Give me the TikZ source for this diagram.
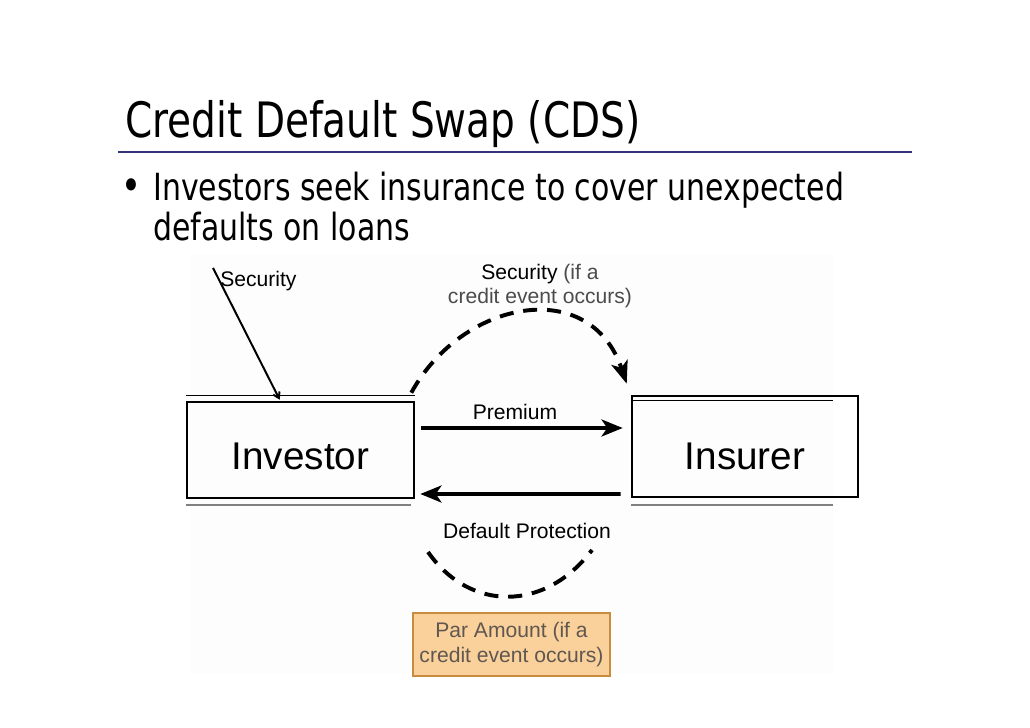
\documentclass[tikz,border=0pt]{standalone}
\usepackage{fontspec}
\setmainfont{Liberation Sans}
\newfontfamily\slidefont{DejaVu Sans}[FakeStretch=0.8]
\usetikzlibrary{arrows.meta,calc}
\definecolor{rulenavy}{RGB}{51,51,122}
\definecolor{parfill}{RGB}{250,208,155}
\definecolor{parline}{RGB}{199,140,62}
\definecolor{partext}{RGB}{96,88,80}
\definecolor{panelgray}{RGB}{253,253,253}

\begin{document}
\begin{tikzpicture}[x=0.025cm, y=-0.025cm, >=Stealth,
  party/.style={rectangle, draw, line width=1.8pt, inner sep=0pt, text height=28pt, text depth=0pt, font=\fontsize{27.5}{30}\selectfont},
  lbl/.style={inner sep=0pt, align=center, font=\fontsize{15}{17.7}\selectfont},
  flow/.style={line width=2.8pt, -{Stealth[length=15pt,width=12pt,inset=4pt]}},
  dashflow/.style={line width=2.8pt, dash pattern=on 10pt off 7pt}]
\useasboundingbox (0,0) rectangle (1030,728);
\fill[panelgray] (191,255) rectangle (833,673);
% slide title and bullet
\node[anchor=base west, inner sep=0pt, font=\slidefont\fontsize{34.7}{40}\selectfont] (title) at (125,138) {Credit Default Swap (CDS)};
\draw[rulenavy, line width=1.8pt] (118,152) -- (912,152);
\node[anchor=base west, inner sep=0pt, font=\slidefont\fontsize{30}{30}\selectfont] (dot) at (121,201) {\textbullet};
\node[anchor=north west, inner sep=0pt, align=left, font=\slidefont\fontsize{26.6}{28.3}\selectfont] (bullettxt) at (153,172) {Investors seek insurance to cover unexpected\\defaults on loans};
% the two parties
\node[party, minimum width=5.675cm, minimum height=2.4cm] (inv) at (300.5,450) {Investor};
\node[party, text height=33pt, minimum width=5.65cm, minimum height=2.525cm] (ins) at (745,446.5) {Insurer};
\draw[line width=0.8pt] ($(inv.north west)+(0,-5)$) -- ($(inv.north east)+(0,-5)$);
\draw[gray, line width=1.6pt] ($(inv.south west)+(0,6)$) -- ($(inv.south east)+(-4,6)$);
\draw[line width=0.8pt] ($(ins.north west)+(0,6)$) -- ($(ins.north east)+(-26,6)$);
\draw[gray, line width=1.6pt] ($(ins.south west)+(0,7)$) -- ($(ins.south east)+(-26,7)$);
% payments
\draw[flow] ($(inv.east)+(6,-22)$) -- ($(ins.west)+(-8,-18.5)$);
\node[lbl] (premlbl) at (515,412) {Premium};
\draw[flow] ($(ins.west)+(-10,47.5)$) -- ($(inv.east)+(5,44)$);
\node[lbl] (deflbl) at (527,531) {Default Protection};
% security in and out
\node[lbl, anchor=west] (secin) at (220,281) {Security};
\coordinate (secend) at ($(inv.north west)+(94,-1)$);
\draw[line width=1.4pt, -{Straight Barb[length=4pt,width=5pt]}] ($(secin.north west)+(-7,-3)$) -- (secend);
\node[lbl] (seclbl) at (540,286) {Security {\color{black!70}(if a}\\{\color{black!70}credit event occurs)}};
\draw[dashflow, -{Stealth[length=16pt,width=12pt,inset=4pt]}] ($(inv.north east)+(-4,-8)$) .. controls (462,300) and (590,275) .. ($(ins.north west)+(-4,-11)$);
% par amount
\node[lbl, rectangle, draw=parline, fill=parfill, line width=1.3pt, minimum width=4.925cm, minimum height=1.575cm, text=partext] (par) at (511.5,644.5) {Par Amount (if a\\credit event occurs)};
\coordinate (arcl) at (428,552);
\coordinate (arcr) at (592,550);
\draw[dashflow] (arcl) .. controls (470,612) and (545,612) .. (arcr);
\end{tikzpicture}
\end{document}
